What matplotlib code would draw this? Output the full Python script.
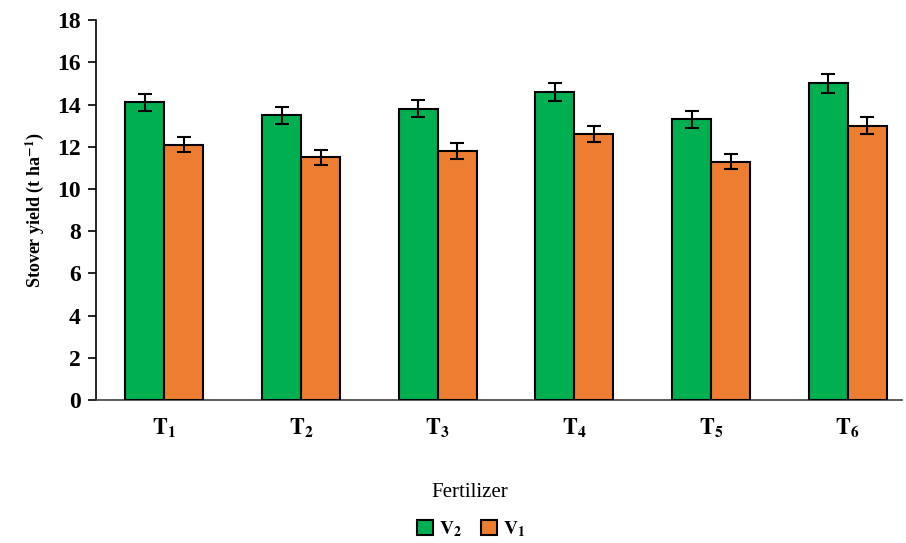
import matplotlib

matplotlib.use("Agg")
import matplotlib.pyplot as plt
import numpy as np

plt.rcParams["font.family"] = "Liberation Serif"
plt.rcParams["mathtext.fontset"] = "stix"

treatments = ["T$_1$", "T$_2$", "T$_3$", "T$_4$", "T$_5$", "T$_6$"]
v2_yield = [14.1, 13.5, 13.8, 14.6, 13.3, 15.0]
v1_yield = [12.1, 11.5, 11.8, 12.6, 11.3, 13.0]
v2_err = [0.42, 0.40, 0.41, 0.43, 0.40, 0.44]
v1_err = [0.37, 0.35, 0.36, 0.38, 0.34, 0.39]

GREEN = "#00b050"
ORANGE = "#ed7d31"

fig, ax = plt.subplots(figsize=(9.06, 5.43), dpi=100)
fig.subplots_adjust(left=0.106, right=0.996, top=0.963, bottom=0.263)

x = np.arange(len(treatments))
w = 0.285
err_kw = dict(ecolor="black", elinewidth=1.5, capsize=5, capthick=1.5)
ax.bar(x - w / 2, v2_yield, w, yerr=v2_err, color=GREEN, edgecolor="black",
       linewidth=1.5, label=r"$\mathbf{V_2}$", error_kw=err_kw, zorder=3)
ax.bar(x + w / 2, v1_yield, w, yerr=v1_err, color=ORANGE, edgecolor="black",
       linewidth=1.5, label=r"$\mathbf{V_1}$", error_kw=err_kw, zorder=3)

ax.set_xlim(-0.5, len(treatments) - 0.6)
ax.set_ylim(0, 18)
ax.set_yticks(range(0, 19, 2))
ax.set_xticks(x)
ax.set_xticklabels([r"$\mathbf{T_%d}$" % (i + 1) for i in x], fontsize=16)
ax.tick_params(axis="x", length=0, pad=12)
ax.tick_params(axis="y", length=6, width=1.2, labelsize=17, pad=5)
for lbl in ax.get_yticklabels():
    lbl.set_fontweight("bold")

for side in ("top", "right"):
    ax.spines[side].set_visible(False)
ax.spines["left"].set_linewidth(1.2)
ax.spines["bottom"].set_linewidth(1.2)
ax.spines["bottom"].set_color("#404040")

ax.set_ylabel(r"Stover yield (t ha$^{\mathbf{-1}}$)", fontsize=13,
              fontweight="bold", labelpad=8)
fig.text(0.519, 0.093, "Fertilizer", ha="center", va="center", fontsize=15)

fig.legend(loc="center", bbox_to_anchor=(0.52, 0.026), ncol=2, frameon=False,
           fontsize=14, handlelength=0.8, handleheight=0.8, handletextpad=0.3,
           columnspacing=1.0, borderpad=0.1)

fig.savefig("out.png", dpi=100)
